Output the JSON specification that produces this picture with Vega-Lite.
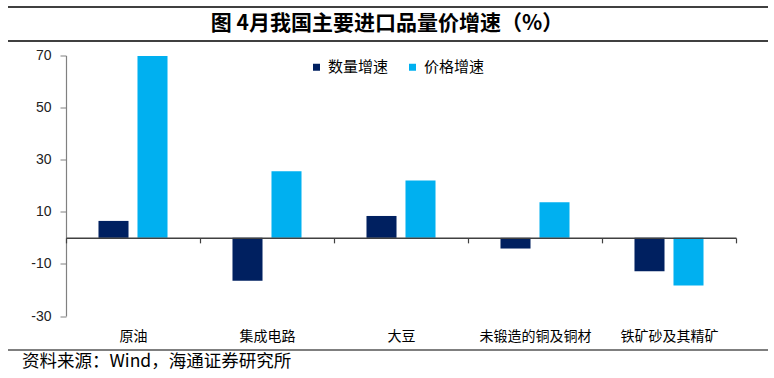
{
  "$schema": "https://vega.github.io/schema/vega-lite/v6.json",
  "width": 670,
  "height": 260.5,
  "autosize": {"type": "none"},
  "padding": {"left": 66, "top": 55.5, "right": 38, "bottom": 62},
  "background": "white",
  "layer": [
    {
      "data": {
        "values": [
          {"item": "原油", "series": "数量增速", "value": 6.5},
          {"item": "原油", "series": "价格增速", "value": 69.8},
          {"item": "集成电路", "series": "数量增速", "value": -16.5},
          {"item": "集成电路", "series": "价格增速", "value": 25.6},
          {"item": "大豆", "series": "数量增速", "value": 8.4},
          {"item": "大豆", "series": "价格增速", "value": 22.0},
          {"item": "未锻造的铜及铜材", "series": "数量增速", "value": -4.1},
          {"item": "未锻造的铜及铜材", "series": "价格增速", "value": 13.7},
          {"item": "铁矿砂及其精矿", "series": "数量增速", "value": -12.8},
          {"item": "铁矿砂及其精矿", "series": "价格增速", "value": -18.3}
        ]
      },
      "mark": {"type": "bar"},
      "encoding": {
        "x": {
          "field": "item",
          "type": "nominal",
          "sort": null,
          "scale": {"paddingInner": 0, "paddingOuter": 0},
          "axis": {
            "title": null,
            "offset": -78.15,
            "labelAngle": 0,
            "labelFont": "Noto Sans CJK SC",
            "labelFontSize": 14,
            "labelColor": "#000000",
            "labelBaseline": "middle",
            "labelPadding": 94,
            "domainColor": "#404040",
            "domainWidth": 1.5,
            "tickColor": "#404040",
            "tickWidth": 1.2,
            "tickSize": 5,
            "tickBand": "extent",
            "zindex": 1
          }
        },
        "xOffset": {
          "field": "series",
          "type": "nominal",
          "sort": ["数量增速", "价格增速"],
          "scale": {"paddingInner": 0.23, "paddingOuter": 0.833}
        },
        "y": {
          "field": "value",
          "type": "quantitative",
          "scale": {"domain": [-30, 70], "nice": false, "zero": false},
          "axis": {
            "title": null,
            "values": [-30, -10, 10, 30, 50, 70],
            "labelExpr": "'' + datum.value",
            "grid": false,
            "labelFont": "Liberation Sans",
            "labelFontSize": 14,
            "labelColor": "#222222",
            "labelPadding": 9,
            "domainColor": "#808080",
            "domainWidth": 1.2,
            "tickColor": "#808080",
            "tickSize": 6
          }
        },
        "color": {
          "field": "series",
          "type": "nominal",
          "scale": {"domain": ["数量增速", "价格增速"], "range": ["#002060", "#00B0F0"]},
          "legend": {
            "title": null,
            "orient": "none",
            "legendX": 243,
            "legendY": 4,
            "direction": "horizontal",
            "symbolType": "square",
            "symbolSize": 49,
            "symbolStrokeWidth": 0,
            "labelFont": "Noto Sans CJK SC",
            "labelFontSize": 15,
            "labelColor": "#000000",
            "labelOffset": 4,
            "columnPadding": 16
          }
        }
      }
    },
    {
      "data": {"values": [{}]},
      "mark": {"type": "text", "align": "center", "baseline": "middle", "font": "Noto Sans CJK SC", "fontSize": 21, "fontWeight": "bold", "color": "#000000"},
      "encoding": {
        "text": {"value": "图 4月我国主要进口品量价增速（%）"},
        "x": {"datum": 321, "type": "quantitative", "scale": {"domain": [0, 670]}, "axis": null},
        "y": {"datum": 82.09, "type": "quantitative", "scale": {"domain": [-30, 70], "nice": false, "zero": false}}
      }
    },
    {
      "data": {"values": [{}]},
      "mark": {"type": "rule", "color": "#000000", "strokeWidth": 1.5},
      "encoding": {
        "x": {"datum": -58, "type": "quantitative", "scale": {"domain": [0, 670]}, "axis": null},
        "x2": {"datum": 702},
        "y": {"datum": 88.6, "type": "quantitative", "scale": {"domain": [-30, 70], "nice": false, "zero": false}}
      }
    },
    {
      "data": {"values": [{}]},
      "mark": {"type": "rule", "color": "#000000", "strokeWidth": 1.5},
      "encoding": {
        "x": {"datum": -58, "type": "quantitative", "scale": {"domain": [0, 670]}, "axis": null},
        "x2": {"datum": 702},
        "y": {"datum": 75.57, "type": "quantitative", "scale": {"domain": [-30, 70], "nice": false, "zero": false}}
      }
    },
    {
      "data": {"values": [{}]},
      "mark": {"type": "rule", "color": "#000000", "strokeWidth": 1.2},
      "encoding": {
        "x": {"datum": -58, "type": "quantitative", "scale": {"domain": [0, 670]}, "axis": null},
        "x2": {"datum": 702},
        "y": {"datum": -43.05, "type": "quantitative", "scale": {"domain": [-30, 70], "nice": false, "zero": false}}
      }
    },
    {
      "data": {"values": [{}]},
      "mark": {"type": "text", "align": "left", "baseline": "middle", "font": "Noto Sans CJK SC", "fontSize": 17.5, "color": "#000000"},
      "encoding": {
        "text": {"value": "资料来源：Wind，海通证券研究所"},
        "x": {"datum": -44, "type": "quantitative", "scale": {"domain": [0, 670]}, "axis": null},
        "y": {"datum": -47.66, "type": "quantitative", "scale": {"domain": [-30, 70], "nice": false, "zero": false}}
      }
    }
  ],
  "resolve": {"scale": {"x": "independent"}},
  "config": {"view": {"stroke": null}}
}
